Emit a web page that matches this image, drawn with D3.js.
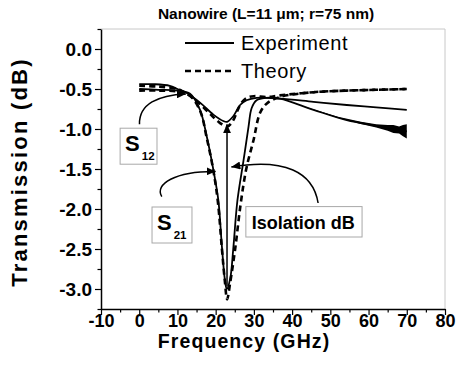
<!DOCTYPE html>
<html>
<head>
<meta charset="utf-8">
<script src="https://cdn.jsdelivr.net/npm/d3@7"></script>
<style>
  body { margin: 0; background: #fff; }
  text { font-family: Arial, 'Liberation Sans', sans-serif; }
</style>
</head>
<body>
<svg id="chart" width="457" height="365"></svg>
<script>
const title = 'Nanowire (L=11 \u03bcm; r=75 nm)'
const xLabel = 'Frequency (GHz)'
const yLabel = 'Transmission (dB)'
const xTicks = [-10, 0, 10, 20, 30, 40, 50, 60, 70, 80]
const xMinor = [-5, 5, 15, 25, 35, 45, 55, 65, 75]
const yTicks = [0, -0.5, -1, -1.5, -2, -2.5, -3]
const yMinor = [0.25, -0.25, -0.75, -1.25, -1.75, -2.25, -2.75, -3.25]

// [GHz, dB]
const expS12 = [[0, -0.44], [4, -0.44], [8, -0.46], [10, -0.5], [12.4, -0.55], [15.9, -0.67],
  [19.4, -0.82], [22, -0.9], [23, -0.91], [24.6, -0.84], [26.4, -0.7], [28.1, -0.64],
  [30.7, -0.61], [36.8, -0.62], [45.6, -0.66], [54.3, -0.7], [62, -0.73], [70, -0.76]]
const expS21 = [[0, -0.5], [5, -0.51], [10, -0.52], [13.3, -0.56], [15.9, -0.76], [17.7, -1.1],
  [19.4, -1.51], [20.7, -1.89], [21.6, -2.45], [22.4, -2.88], [22.9, -3.0], [23.8, -2.87],
  [24.6, -2.5], [25.7, -1.89], [27.3, -1.39], [28.6, -0.97], [29.4, -0.74], [30.7, -0.64],
  [33, -0.61], [36.8, -0.62], [45.6, -0.76], [54.3, -0.89], [62, -0.96], [70, -1.03]]
const theoryS12 = [[0, -0.46], [5, -0.47], [10, -0.5], [12.4, -0.56], [15.5, -0.67], [18.5, -0.81],
  [21, -0.92], [23, -0.97], [24.5, -0.9], [25.6, -0.78], [26.8, -0.67], [28.2, -0.61],
  [30, -0.59], [33.4, -0.6], [36.8, -0.58], [45.6, -0.54], [54.3, -0.52], [62, -0.51], [70, -0.5]]
const theoryS21 = [[0, -0.52], [5, -0.52], [10, -0.53], [13, -0.57], [15.9, -0.77], [17.7, -1.12],
  [19.4, -1.52], [20.6, -1.92], [21.6, -2.48], [22.4, -2.9], [23, -3.13], [23.8, -2.92],
  [25.1, -2.5], [26.5, -1.95], [28, -1.5], [29.9, -1.14], [31.6, -0.8], [33.4, -0.68],
  [36.8, -0.6], [45.6, -0.54], [54.3, -0.52], [62, -0.51], [70, -0.5]]
// half-width of the noisy band on the experimental S21 trace
const expS21Noise = [[44, 0.003], [52, 0.008], [58, 0.014], [62, 0.02], [65, 0.035], [66.5, 0.05],
  [68, 0.045], [69, 0.07], [70, 0.09]]

const legendItems = [{ label: 'Experiment', dash: null }, { label: 'Theory', dash: '6,4' }]
// boxes: [f0, v0, f1, v1]
const notes = [
  { main: 'S', sub: '12', box: [-5.0, -0.99, 4.65, -1.44] },
  { main: 'S', sub: '21', box: [3.35, -1.975, 13.8, -2.425] },
  { main: 'Isolation dB', sub: '', box: [27.9, -1.97, 58.3, -2.35] },
]
// cubic arrows: start, c1, c2, end
const arrows = [
  [[0.07, -0.94], [-0.06, -0.69], [4.9, -0.575], [12.2, -0.562]],
  [[5.9, -1.846], [3.9, -1.69], [9.4, -1.525], [20.0, -1.53]],
  [[46.8, -1.925], [45.5, -1.54], [38.1, -1.36], [24.1, -1.475]],
  [[22.97, -2.97], [22.97, -2.4], [22.97, -1.5], [22.97, -0.94]],
]

const svg = d3.select('#chart')
const margin = { left: 101, right: 12, top: 29, bottom: 56 }
const W = 457, H = 365
const x = d3.scaleLinear().domain([-10, 80]).range([margin.left, W - margin.right])
const y = d3.scaleLinear().domain([-3.25, 0.25]).range([H - margin.bottom, margin.top])

svg.append('defs').append('marker')
  .attr('id', 'head')
  .attr('markerUnits', 'userSpaceOnUse')
  .attr('markerWidth', 10).attr('markerHeight', 8)
  .attr('refX', 9).attr('refY', 4)
  .attr('orient', 'auto')
  .append('path').attr('d', 'M0,0 L9,4 L0,8 Z').attr('fill', 'black')

// frame
svg.append('path')
  .attr('d', `M${x(-10)},${y(0.25)} H${x(80)} V${y(-3.25)}`)
  .attr('fill', 'none').attr('stroke', '#c8c8c8').attr('stroke-width', 1)

const line = d3.line().x((d) => x(d[0])).y((d) => y(d[1])).curve(d3.curveCatmullRom.alpha(0.5))

const series = [
  { data: expS12, dash: null, w: 1.8 },
  { data: expS21, dash: null, w: 1.8 },
  { data: theoryS12, dash: '6,4', w: 2.6 },
  { data: theoryS21, dash: '6,4', w: 2.6 },
]
svg.append('g').selectAll('path')
  .data(series).enter()
  .append('path')
  .attr('d', (d) => line(d.data))
  .attr('fill', 'none')
  .attr('stroke', 'black')
  .attr('stroke-width', (d) => d.w)
  .attr('stroke-dasharray', (d) => d.dash)

// noisy tail of the experimental S21 trace
const s21At = (f) => {
  const i = d3.bisector((d) => d[0]).left(expS21, f)
  const a = expS21[Math.max(i - 1, 0)], b = expS21[Math.min(i, expS21.length - 1)]
  return a[0] === b[0] ? a[1] : a[1] + (b[1] - a[1]) * (f - a[0]) / (b[0] - a[0])
}
svg.append('path')
  .attr('d', d3.area()
    .x((d) => x(d[0]))
    .y0((d) => y(s21At(d[0]) - d[1]))
    .y1((d) => y(s21At(d[0]) + d[1]))(expS21Noise))
  .attr('fill', 'black')

// axes
const xAxis = svg.append('g')
  .attr('transform', `translate(0,${y(-3.25)})`)
  .call(d3.axisBottom(x).tickValues(xTicks).tickSize(6).tickPadding(-1).tickSizeOuter(0))
svg.append('g')
  .attr('transform', `translate(0,${y(-3.25)})`)
  .call(d3.axisBottom(x).tickValues(xMinor).tickSize(3.5).tickFormat('').tickSizeOuter(0))
  .select('.domain').remove()
const yAxis = svg.append('g')
  .attr('transform', `translate(${x(-10)},0)`)
  .call(d3.axisLeft(y).tickValues(yTicks).tickSize(6).tickPadding(3).tickSizeOuter(0)
    .tickFormat(d3.format('.1f')))
svg.append('g')
  .attr('transform', `translate(${x(-10)},0)`)
  .call(d3.axisLeft(y).tickValues(yMinor).tickSize(3.5).tickFormat('').tickSizeOuter(0))
  .select('.domain').remove()
svg.selectAll('.domain').attr('stroke-width', 1.5)
svg.selectAll('.tick line').attr('stroke-width', 1.2)
svg.selectAll('.tick text')
  .attr('font-family', 'Arial, Liberation Sans, sans-serif')
  .attr('font-weight', 'bold')
  .attr('fill', 'black')
yAxis.selectAll('.tick text').attr('font-size', 19)
  .text((d) => d === 0 ? '0.0' : d3.format('.1f')(d).replace('\u2212', '-'))
xAxis.selectAll('.tick text').attr('font-size', 18)
  .text((d) => String(d))

svg.append('text')
  .attr('x', 266).attr('y', 19)
  .attr('text-anchor', 'middle')
  .attr('font-weight', 'bold').attr('font-size', 15.5)
  .text(title)
svg.append('text')
  .attr('x', 244).attr('y', 348)
  .attr('text-anchor', 'middle')
  .attr('font-weight', 'bold').attr('font-size', 19.5).attr('letter-spacing', 1.1)
  .text(xLabel)
svg.append('text')
  .attr('transform', `translate(27,${172}) rotate(-90)`)
  .attr('text-anchor', 'middle')
  .attr('font-weight', 'bold').attr('font-size', 22).attr('letter-spacing', 2.2)
  .text(yLabel)

// legend
const legend = svg.append('g').selectAll('g')
  .data(legendItems).enter()
  .append('g')
  .attr('transform', (d, i) => `translate(185,${43 + i * 28})`)
legend.append('line')
  .attr('x1', 0).attr('x2', 49).attr('y1', 0).attr('y2', 0)
  .attr('stroke', 'black')
  .attr('stroke-width', (d) => d.dash ? 2.6 : 1.8)
  .attr('stroke-dasharray', (d) => d.dash)
legend.append('text')
  .attr('x', 56).attr('y', 7)
  .attr('font-size', 20)
  .attr('letter-spacing', 0.6)
  .text((d) => d.label)

// annotations
const note = svg.append('g').selectAll('g')
  .data(notes).enter()
  .append('g')
note.append('rect')
  .attr('x', (d) => x(d.box[0])).attr('y', (d) => y(d.box[1]))
  .attr('width', (d) => x(d.box[2]) - x(d.box[0]))
  .attr('height', (d) => y(d.box[3]) - y(d.box[1]))
  .attr('fill', 'white').attr('stroke', '#a8a8a8').attr('stroke-width', 1)
const noteText = note.append('text')
  .attr('x', (d) => x(d.box[0]) + (d.sub ? 5 : 6))
  .attr('y', (d) => d.sub ? y(d.box[3]) - 13 : y(d.box[3]) - 8)
  .attr('font-weight', 'bold')
  .attr('font-size', (d) => d.sub ? 22 : 18)
noteText.append('tspan').text((d) => d.main)
noteText.append('tspan')
  .attr('font-size', 11.5).attr('dx', 2).attr('dy', 9)
  .text((d) => d.sub)

svg.append('g').selectAll('path')
  .data(arrows).enter()
  .append('path')
  .attr('d', (d) => `M${x(d[0][0])},${y(d[0][1])} C${x(d[1][0])},${y(d[1][1])} ${x(d[2][0])},${y(d[2][1])} ${x(d[3][0])},${y(d[3][1])}`)
  .attr('fill', 'none')
  .attr('stroke', 'black')
  .attr('stroke-width', 1.5)
  .attr('marker-end', 'url(#head)')
</script>
</body>
</html>
